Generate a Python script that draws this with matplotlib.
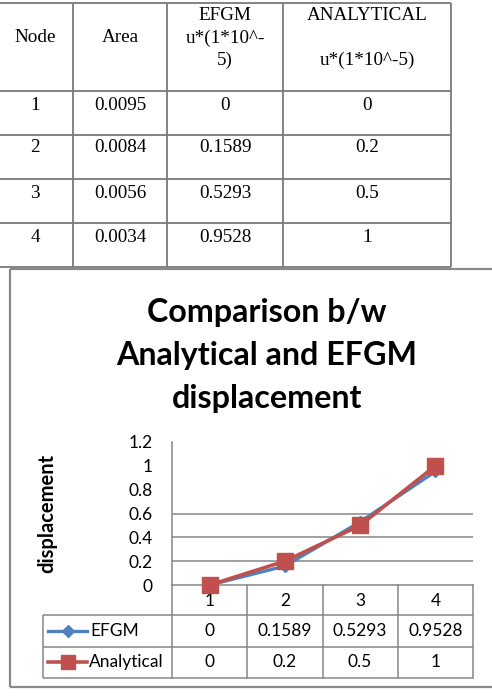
import matplotlib
matplotlib.use("Agg")
import matplotlib.pyplot as plt
from matplotlib.lines import Line2D
import matplotlib.transforms as mtransforms

# ---------------- data ----------------
nodes = [1, 2, 3, 4]
areas = ["0.0095", "0.0084", "0.0056", "0.0034"]
efgm = [0, 0.1589, 0.5293, 0.9528]
analytical = [0, 0.2, 0.5, 1]
efgm_labels = ["0", "0.1589", "0.5293", "0.9528"]
analytical_labels = ["0", "0.2", "0.5", "1"]
y_ticks = [0, 0.2, 0.4, 0.6, 0.8, 1.0, 1.2]
y_tick_labels = ["0", "0.2", "0.4", "0.6", "0.8", "1", "1.2"]
grid_levels = [0.2, 0.4, 0.6]
title_lines = ["Comparison b/w", "Analytical and EFGM", "displacement"]
y_label = "displacement"
series_names = ["EFGM", "Analytical"]

W, H = 492, 698
fig = plt.figure(figsize=(W / 100, H / 100), dpi=100)


def fx(x):
    return x / W


def fy(y):
    return 1 - y / H


GRID = "#868686"
SERIF = "Liberation Serif"
SANS = "Lato"


def hline(y, x0, x1, color=GRID, lw=1.1):
    fig.add_artist(Line2D([fx(x0), fx(x1)], [fy(y), fy(y)], color=color, lw=lw,
                          transform=fig.transFigure, solid_capstyle="butt"))


def vline(x, y0, y1, color=GRID, lw=1.1):
    fig.add_artist(Line2D([fx(x), fx(x)], [fy(y0), fy(y1)], color=color, lw=lw,
                          transform=fig.transFigure, solid_capstyle="butt"))


# ---------------- top table ----------------
tcol = [73, 167, 283, 451]
trow = [3, 91, 135, 179, 223, 267]
for y in trow:
    hline(y, 0, 451, color="#7a7a7a", lw=1.3)
for x in tcol:
    vline(x, 3, 267, color="#7a7a7a", lw=1.3)

cx = [35, 120, 225, 367]
ts = 13.8
fig.text(fx(cx[0]), fy(38), "Node", ha="center", va="center", family=SERIF, fontsize=ts)
fig.text(fx(cx[1]), fy(38), "Area", ha="center", va="center", family=SERIF, fontsize=ts)
for yy, s in zip([15, 38, 60], ["EFGM", "u*(1*10^-", "5)"]):
    fig.text(fx(cx[2]), fy(yy), s, ha="center", va="center", family=SERIF, fontsize=ts)
fig.text(fx(cx[3]), fy(15), "ANALYTICAL", ha="center", va="center", family=SERIF, fontsize=ts)
fig.text(fx(cx[3]), fy(60), "u*(1*10^-5)", ha="center", va="center", family=SERIF, fontsize=ts)

row_y = [105, 148, 193, 237]
for i in range(len(nodes)):
    vals = [str(nodes[i]), areas[i], efgm_labels[i], analytical_labels[i]]
    for j, v in enumerate(vals):
        fig.text(fx(cx[j]), fy(row_y[i]), v, ha="center", va="center",
                 family=SERIF, fontsize=ts)

# ---------------- chart box ----------------
BOX = "#8a8a8a"
hline(269, 10, 492, color=BOX, lw=1.6)
hline(687, 10, 492, color=BOX, lw=1.6)
vline(10, 269, 687, color=BOX, lw=1.6)

# title
for yy, s in zip([322, 365, 408], title_lines):
    fig.text(fx(267), fy(yy), s, ha="center", va="baseline", family=SANS,
             fontweight="bold", fontsize=23.2)

# ---------------- plot ----------------
ax = fig.add_axes([fx(172), fy(585), (473 - 172) / W, (585 - 442) / H])
ax.set_xlim(0.5, 4.5)
ax.set_ylim(0, 1.2)
for s in ["top", "right"]:
    ax.spines[s].set_visible(False)
ax.spines["left"].set_color(GRID)
ax.spines["bottom"].set_color(GRID)
ax.spines["left"].set_linewidth(1.1)
ax.spines["bottom"].set_linewidth(1.1)
ax.set_xticks([])
ax.set_yticks(y_ticks)
ax.set_yticklabels(y_tick_labels, family=SANS, fontsize=12.5)
ax.tick_params(axis="y", length=0, pad=14)
for g in grid_levels:
    ax.axhline(g, color=GRID, lw=1.1, zorder=0)

ax.plot(nodes, efgm, color="#4F81BD", lw=2.4, marker="D", markersize=6.5,
        zorder=3, clip_on=False)
ax.plot(nodes, analytical, color="#C0504D", lw=2.6, marker="s", markersize=11,
        zorder=4, clip_on=False)

fig.text(fx(47), fy(513), y_label, rotation=90, ha="center", va="center",
         family=SANS, fontweight="bold", fontsize=14.5)

# ---------------- data table under plot ----------------
bt = mtransforms.blended_transform_factory(ax.transData, fig.transFigure)
edges = [n + 0.5 for n in nodes]
for e in edges:
    ax.add_line(Line2D([e, e], [fy(585), fy(678)], transform=bt, color=GRID,
                       lw=1.1, clip_on=False))
ax.add_line(Line2D([0.5, 0.5], [fy(585), fy(678)], transform=bt, color=GRID,
                   lw=1.1, clip_on=False))
hline(615, 43, 473)
hline(647, 43, 473)
hline(678, 43, 473)
vline(43, 615, 678)

for n in nodes:
    ax.text(n, fy(601), str(n), transform=bt, ha="center", va="center",
            family=SANS, fontsize=12.5)
for n, a, b in zip(nodes, efgm_labels, analytical_labels):
    ax.text(n, fy(631), a, transform=bt, ha="center", va="center", family=SANS,
            fontsize=12.5)
    ax.text(n, fy(662), b, transform=bt, ha="center", va="center", family=SANS,
            fontsize=12.5)

# legend keys
fig.add_artist(Line2D([fx(48), fx(87)], [fy(631), fy(631)], color="#4F81BD", lw=2.4,
                      transform=fig.transFigure))
fig.add_artist(Line2D([fx(67.5)], [fy(631)], color="#4F81BD", marker="D",
                      markersize=6.5, transform=fig.transFigure))
fig.add_artist(Line2D([fx(48), fx(87)], [fy(662), fy(662)], color="#C0504D", lw=2.6,
                      transform=fig.transFigure))
fig.add_artist(Line2D([fx(67.5)], [fy(662)], color="#C0504D", marker="s",
                      markersize=10, transform=fig.transFigure))
fig.text(fx(90), fy(631), series_names[0], ha="left", va="center", family=SANS,
         fontsize=12.5)
fig.text(fx(89), fy(662), series_names[1], ha="left", va="center", family=SANS,
         fontsize=12.5)

fig.savefig("out.png", dpi=100, facecolor="white")
